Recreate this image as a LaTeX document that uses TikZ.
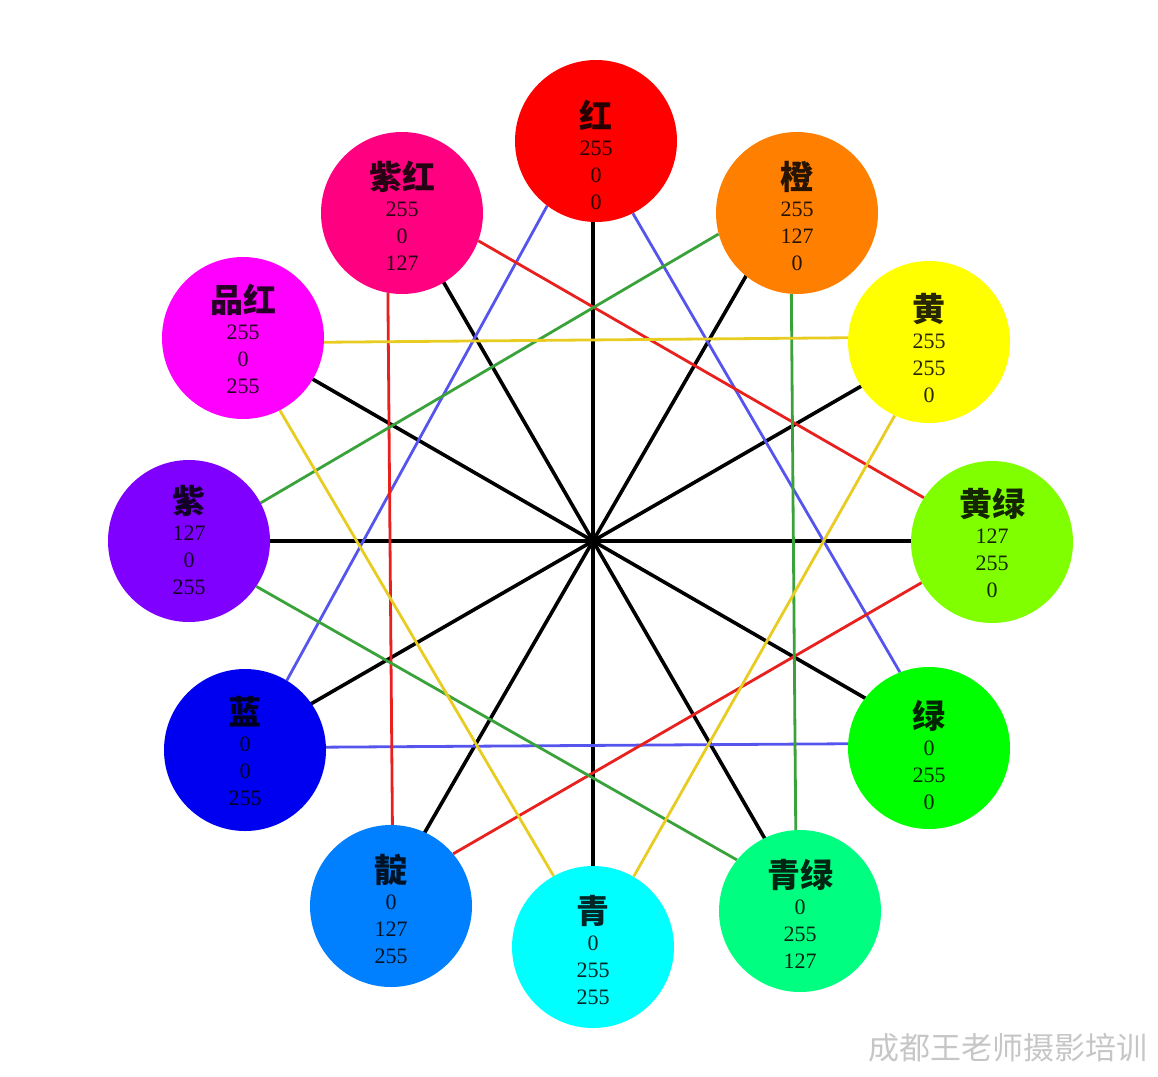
\documentclass[tikz,border=0pt]{standalone}
\usepackage{fontspec}
\setmainfont{Liberation Serif}
\newfontfamily\cjk{Noto Sans CJK SC}
\usetikzlibrary{backgrounds}
\definecolor{cRed}{RGB}{255,0,0}
\definecolor{cOrange}{RGB}{255,128,0}
\definecolor{cYellow}{RGB}{255,255,0}
\definecolor{cChart}{RGB}{128,255,0}
\definecolor{cGreen}{RGB}{0,255,0}
\definecolor{cSpring}{RGB}{0,255,128}
\definecolor{cCyan}{RGB}{0,255,255}
\definecolor{cAzure}{RGB}{0,128,255}
\definecolor{cBlue}{RGB}{0,0,240}
\definecolor{cViolet}{RGB}{128,0,255}
\definecolor{cMagenta}{RGB}{255,0,255}
\definecolor{cRose}{RGB}{255,0,128}
\definecolor{lBlue}{HTML}{5555EE}
\definecolor{lRed}{HTML}{E8201E}
\definecolor{lGreen}{HTML}{3AA23A}
\definecolor{lYellow}{HTML}{E8CC22}
\tikzset{
  disc/.style={circle,fill=#1,inner sep=0pt,minimum size=162pt,align=center,
    text height=115pt,text depth=0pt,font=\fontsize{22}{27}\selectfont,
    text=black,text opacity=0.85},
  spoke/.style={black,line width=3.6pt},
  chord/.style={#1,line width=2.8pt},
  wmark/.style={font=\cjk\fontsize{31}{31}\selectfont,text=gray!45},
}
\newcommand{\rgbtext}[4]{{\cjk\bfseries\fontsize{33}{27}\selectfont #1}\\#2\\#3\\#4}

\begin{document}
\begin{tikzpicture}[x=1pt,y=-1pt]
  \useasboundingbox (0,0) rectangle (1158,1076);
  \coordinate (o) at (593,541);
  % ---------- colour discs ----------
  \node[disc=cRed,text height=137pt] (hong) at (596,141) {\rgbtext{红}{255}{0}{0}};
  \node[disc=cOrange]  (cheng)   at (797,213) {\rgbtext{橙}{255}{127}{0}};
  \node[disc=cYellow,text height=121pt] (huang) at (929,342) {\rgbtext{黄}{255}{255}{0}};
  \node[disc=cChart,text height=111pt] (huanglv) at (992,542) {\rgbtext{黄绿}{127}{255}{0}};
  \node[disc=cGreen,text height=123pt] (lv) at (929,748) {\rgbtext{绿}{0}{255}{0}};
  \node[disc=cSpring]  (qinglv)  at (800,911) {\rgbtext{青绿}{0}{255}{127}};
  \node[disc=cCyan]    (qing)    at (593,947) {\rgbtext{青}{0}{255}{255}};
  \node[disc=cAzure]   (dian)    at (391,906) {\rgbtext{靛}{0}{127}{255}};
  \node[disc=cBlue,text height=111pt] (lan) at (245,750) {\rgbtext{蓝}{0}{0}{255}};
  \node[disc=cViolet,text height=107pt] (zi) at (189,541) {\rgbtext{紫}{127}{0}{255}};
  \node[disc=cMagenta,text height=111pt] (pinhong) at (243,338) {\rgbtext{品红}{255}{0}{255}};
  \node[disc=cRose]    (zihong)  at (402,213) {\rgbtext{紫红}{255}{0}{127}};
  % ---------- spokes and chords ----------
  \begin{scope}[on background layer]
    \foreach \a in {0,30,...,330} \draw[spoke] (o) -- ++(\a:380pt);
    \draw[chord=lBlue] (hong.233) -- (lan.59);
    \draw[chord=lBlue] (hong.297) -- (lv.111);
    \draw[chord=lBlue] (lan.2) -- (lv.177);
    \draw[chord=lRed] (zihong.340) -- (huanglv.147);
    \draw[chord=lRed] (zihong.260) -- (dian.89);
    \draw[chord=lRed] (dian.40) -- (huanglv.210);
    \draw[chord=lGreen] (cheng.195) -- (zi.28);
    \draw[chord=lGreen] (cheng.266) -- (qinglv.93);
    \draw[chord=lGreen] (zi.326) -- (qinglv.141);
    \draw[chord=lYellow] (pinhong.357) -- (huang.177);
    \draw[chord=lYellow] (pinhong.297) -- (qing.119);
    \draw[chord=lYellow] (huang.245) -- (qing.60);
  \end{scope}
  % ---------- watermark ----------
  \node[wmark] (wm) at (1008,1048) {成都王老师摄影培训};
\end{tikzpicture}
\end{document}
